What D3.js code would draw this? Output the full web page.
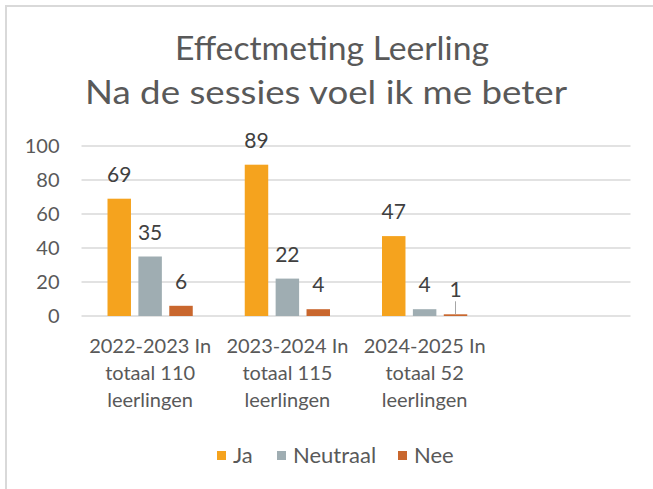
<!DOCTYPE html>
<html>
<head>
<meta charset="utf-8">
<script src="https://cdn.jsdelivr.net/npm/d3@7"></script>
<style>
	body { margin: 0; background: #fff; }
	svg { font-family: "Lato", "Open Sans", sans-serif; }
</style>
</head>
<body>
<div id="graphArea"></div>
<script>
// categories (the 4th one is empty in the original sheet)
var categories = ["2022-2023", "2023-2024", "2024-2025", ""]
var categoryLines = [
	["2022-2023 In", "totaal 110", "leerlingen"],
	["2023-2024 In", "totaal 115", "leerlingen"],
	["2024-2025 In", "totaal 52", "leerlingen"],
	[]
]
var seriesNames = ["Ja", "Neutraal", "Nee"]
var jaValues = [69, 89, 47]
var neutraalValues = [35, 22, 4]
var neeValues = [6, 4, 1]
var yTicks = [0, 20, 40, 60, 80, 100]
var colors = ["#f5a31e", "#9fadb2", "#c9672e"]

var width = 653
var height = 489
var textColor = "#595959"

var svg = d3.select("#graphArea")
	.append("svg")
	.attr("width", width)
	.attr("height", height)

// chart border
svg.append("rect")
	.attr("x", 6)
	.attr("y", 6)
	.attr("width", width + 10)
	.attr("height", height + 10)
	.attr("fill", "none")
	.attr("stroke", "#d9d9d9")
	.attr("stroke-width", 2)

// title
var title = svg.append("text")
	.attr("text-anchor", "middle")
	.attr("fill", textColor)
	.style("font-size", "33px")
title.append("tspan").attr("x", 332).attr("y", 60)
	.attr("textLength", 314).attr("lengthAdjust", "spacingAndGlyphs")
	.text("Effectmeting Leerling")
title.append("tspan").attr("x", 326).attr("y", 104)
	.attr("textLength", 482).attr("lengthAdjust", "spacingAndGlyphs")
	.text("Na de sessies voel ik me beter")

var plotLeft = 81.5
var plotRight = 630.5
var plotTop = 146
var plotBottom = 316

var x = d3.scaleBand()
	.domain(categories)
	.range([plotLeft, plotRight])
	.paddingInner(0)
	.paddingOuter(0)

var xs = d3.scaleBand()
	.domain(seriesNames)
	.range([26, x.bandwidth() - 26])
	.paddingInner(0.24)

var y = d3.scaleLinear()
	.domain([0, 100])
	.range([plotBottom, plotTop])

// gridlines
svg.append("g")
	.selectAll("line")
	.data(yTicks)
	.enter()
	.append("line")
	.attr("x1", plotLeft)
	.attr("x2", plotRight)
	.attr("y1", function(d) { return y(d) })
	.attr("y2", function(d) { return y(d) })
	.attr("stroke", "#d9d9d9")
	.attr("stroke-width", 1.5)

// y axis labels
var yAxis = svg.append("g")
	.attr("transform", "translate(" + (plotLeft - 22) + ",0)")
	.call(d3.axisLeft(y).tickValues(yTicks).tickSize(0).tickPadding(0))
yAxis.select(".domain").remove()
yAxis.selectAll("text")
	.attr("fill", textColor)
	.style("font-size", "20px")
	.style("font-family", '"Lato", sans-serif')

// build rows
var rows = []
var allSeries = [jaValues, neutraalValues, neeValues]
for (i = 0; i < 3; i++) {
	for (j = 0; j < seriesNames.length; j++) {
		rows.push({cat: categories[i], series: seriesNames[j], s: j, value: allSeries[j][i]})
	}
}

svg.append("g")
	.selectAll("rect")
	.data(rows)
	.enter()
	.append("rect")
	.attr("x", function(d) { return x(d.cat) + xs(d.series) })
	.attr("y", function(d) { return y(d.value) })
	.attr("width", xs.bandwidth())
	.attr("height", function(d) { return y(0) - y(d.value) })
	.attr("fill", function(d) { return colors[d.s] })

// data labels
svg.append("g")
	.selectAll("text")
	.data(rows)
	.enter()
	.append("text")
	.attr("text-anchor", "middle")
	.attr("x", function(d) { return x(d.cat) + xs(d.series) + xs.bandwidth() / 2 })
	.attr("y", function(d) { return y(d.value) - 17 })
	.attr("fill", "#404040")
	.style("font-size", "21px")
	.text(function(d) { return d.value })

// leader line for the small "1" label
var small = rows.filter(function(d) { return d.value < 2 })
svg.append("g")
	.selectAll("line")
	.data(small)
	.enter()
	.append("line")
	.attr("x1", function(d) { return x(d.cat) + xs(d.series) + xs.bandwidth() / 2 })
	.attr("x2", function(d) { return x(d.cat) + xs(d.series) + xs.bandwidth() / 2 })
	.attr("y1", function(d) { return y(d.value) - 13 })
	.attr("y2", function(d) { return y(d.value) })
	.attr("stroke", "#a6a6a6")
	.attr("stroke-width", 1)

// category labels
var catG = svg.append("g")
	.selectAll("text")
	.data(categories)
	.enter()
	.append("text")
	.attr("text-anchor", "middle")
	.attr("fill", textColor)
	.style("font-size", "20px")
catG.each(function(d, i) {
	var t = d3.select(this)
	categoryLines[i].forEach(function(line, k) {
		t.append("tspan")
			.attr("x", x(d) + x.bandwidth() / 2)
			.attr("y", 353 + k * 27)
			.text(line)
	})
})

// legend
var legendX = [217, 277, 398]
var legend = svg.append("g")
	.selectAll("g")
	.data(seriesNames)
	.enter()
	.append("g")
	.attr("transform", function(d, i) { return "translate(" + legendX[i] + ",451)" })
legend.append("rect")
	.attr("width", 9)
	.attr("height", 9)
	.attr("fill", function(d, i) { return colors[i] })
legend.append("text")
	.attr("x", 16)
	.attr("y", 12)
	.attr("fill", textColor)
	.style("font-size", "22px")
	.text(function(d) { return d })
</script>
</body>
</html>
